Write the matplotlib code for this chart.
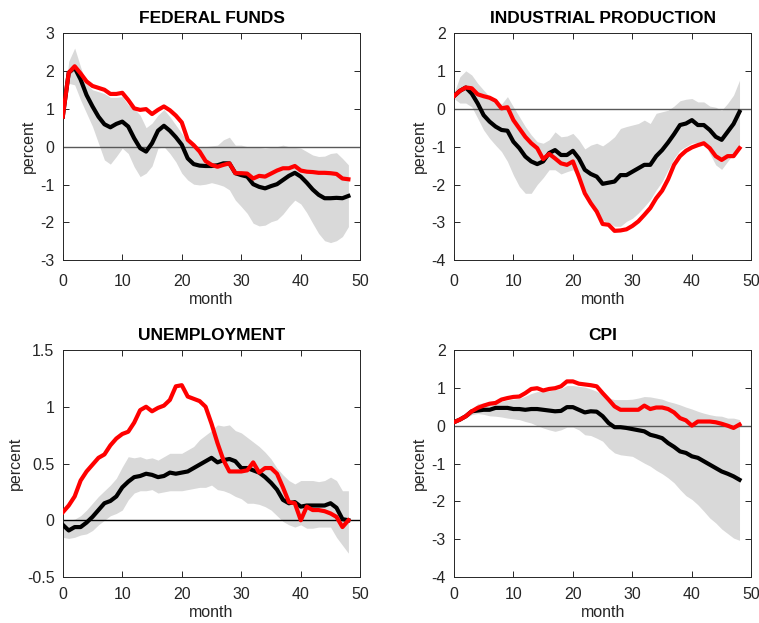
import numpy as np
import matplotlib
matplotlib.use("Agg")
from matplotlib import pyplot as plt

plt.rcParams['font.family'] = ['Liberation Sans', 'DejaVu Sans']
plt.rcParams['axes.unicode_minus'] = False

months = np.arange(49)

# Federal funds
ff_red = [0.79, 1.95, 2.12, 1.93, 1.72, 1.60, 1.55, 1.50, 1.39, 1.39,
          1.42, 1.23, 1.01, 0.97, 0.99, 0.86, 0.97, 1.06, 0.96, 0.82,
          0.64, 0.18, 0.04, -0.13, -0.38, -0.48, -0.53, -0.48, -0.44, -0.70,
          -0.70, -0.71, -0.84, -0.77, -0.79, -0.71, -0.63, -0.57, -0.57, -0.51,
          -0.63, -0.66, -0.67, -0.69, -0.69, -0.70, -0.72, -0.84, -0.86]
ff_black = [0.79, 1.95, 2.08, 1.77, 1.36, 1.06, 0.79, 0.59, 0.51, 0.60,
            0.66, 0.53, 0.22, -0.04, -0.13, 0.09, 0.42, 0.55, 0.42, 0.25,
            0.05, -0.31, -0.46, -0.50, -0.51, -0.51, -0.49, -0.44, -0.44, -0.70,
            -0.75, -0.79, -0.99, -1.06, -1.10, -1.04, -0.99, -0.88, -0.77, -0.69,
            -0.79, -0.95, -1.13, -1.27, -1.36, -1.36, -1.35, -1.36, -1.30]
ff_hi = [0.79, 2.25, 2.60, 2.10, 1.65, 1.50, 1.45, 1.40, 1.30, 1.30,
         1.32, 1.10, 1.00, 0.83, 0.50, 0.62, 0.83, 0.98, 0.79, 0.57,
         0.35, 0.13, 0.04, 0.00, 0.00, 0.02, 0.04, 0.18, 0.25, 0.04,
         0.04, 0.00, 0.00, -0.02, -0.04, -0.02, 0.00, 0.04, 0.00, -0.02,
         -0.04, -0.13, -0.22, -0.26, -0.25, -0.18, -0.16, -0.31, -0.48]
ff_lo = [0.79, 1.67, 1.63, 1.23, 0.88, 0.53, 0.09, -0.35, -0.46, -0.26,
         -0.04, -0.18, -0.53, -0.79, -0.70, -0.51, -0.04, 0.00, -0.18, -0.40,
         -0.70, -0.88, -0.99, -1.01, -0.99, -0.95, -0.99, -1.04, -1.14, -1.41,
         -1.58, -1.76, -2.02, -2.09, -2.07, -1.98, -1.93, -1.78, -1.58, -1.41,
         -1.51, -1.74, -2.02, -2.29, -2.48, -2.53, -2.48, -2.37, -2.11]

# Industrial production
ip_red = [0.33, 0.47, 0.56, 0.54, 0.38, 0.33, 0.29, 0.21, 0.01, 0.04,
          -0.30, -0.52, -0.74, -0.91, -1.04, -1.33, -1.19, -1.31, -1.44, -1.48,
          -1.39, -1.79, -2.23, -2.49, -2.71, -3.04, -3.06, -3.22, -3.21, -3.18,
          -3.09, -2.97, -2.80, -2.62, -2.36, -2.16, -1.86, -1.48, -1.25, -1.11,
          -1.02, -0.96, -0.91, -1.04, -1.25, -1.35, -1.25, -1.25, -1.04]
ip_black = [0.33, 0.47, 0.56, 0.40, 0.14, -0.17, -0.34, -0.47, -0.56, -0.58,
            -0.87, -1.04, -1.26, -1.39, -1.46, -1.39, -1.17, -1.09, -1.22, -1.22,
            -1.11, -1.31, -1.61, -1.72, -1.79, -1.98, -1.95, -1.92, -1.75, -1.75,
            -1.66, -1.57, -1.48, -1.48, -1.25, -1.09, -0.89, -0.67, -0.43, -0.39,
            -0.30, -0.43, -0.43, -0.56, -0.74, -0.82, -0.61, -0.40, -0.08]
ip_hi = [0.40, 0.84, 1.00, 0.89, 0.67, 0.49, 0.32, 0.18, 0.12, 0.32,
         0.05, -0.21, -0.47, -0.69, -0.87, -0.91, -0.82, -0.61, -0.74, -0.72,
         -0.65, -0.82, -1.06, -0.96, -0.91, -0.98, -0.87, -0.74, -0.52, -0.47,
         -0.43, -0.39, -0.30, -0.39, -0.12, -0.08, -0.04, 0.07, 0.21, 0.25,
         0.27, 0.18, 0.18, 0.07, 0.04, -0.04, 0.14, 0.36, 0.75]
ip_lo = [0.27, 0.15, 0.15, 0.05, -0.25, -0.56, -0.78, -0.96, -1.13, -1.39,
         -1.75, -2.05, -2.23, -2.23, -2.00, -1.82, -1.61, -1.61, -1.72, -1.66,
         -1.61, -1.82, -2.14, -2.45, -2.65, -2.95, -3.00, -3.10, -3.10, -2.97,
         -2.89, -2.75, -2.58, -2.40, -2.14, -1.92, -1.61, -1.31, -1.09, -1.00,
         -0.91, -0.89, -0.87, -1.18, -1.48, -1.60, -1.39, -1.18, -0.96]

# Unemployment
un_red = [0.07, 0.13, 0.21, 0.35, 0.43, 0.49, 0.55, 0.58, 0.66, 0.72,
          0.76, 0.78, 0.86, 0.97, 1.00, 0.96, 0.99, 1.01, 1.06, 1.18,
          1.19, 1.09, 1.07, 1.05, 1.00, 0.85, 0.68, 0.53, 0.43, 0.43,
          0.43, 0.44, 0.51, 0.42, 0.46, 0.46, 0.41, 0.29, 0.16, 0.15,
          0.00, 0.12, 0.09, 0.09, 0.08, 0.06, 0.03, -0.06, 0.00]
un_black = [-0.04, -0.09, -0.06, -0.06, -0.02, 0.03, 0.09, 0.15, 0.17, 0.21,
            0.29, 0.34, 0.38, 0.39, 0.41, 0.40, 0.38, 0.39, 0.42, 0.41,
            0.42, 0.43, 0.46, 0.49, 0.52, 0.55, 0.51, 0.53, 0.54, 0.52,
            0.46, 0.46, 0.44, 0.42, 0.38, 0.33, 0.27, 0.18, 0.15, 0.16,
            0.12, 0.13, 0.13, 0.13, 0.13, 0.15, 0.11, 0.01, 0.00]
un_hi = [0.01, 0.00, 0.01, 0.04, 0.09, 0.15, 0.21, 0.26, 0.31, 0.37,
         0.47, 0.56, 0.55, 0.56, 0.54, 0.55, 0.53, 0.56, 0.59, 0.59,
         0.59, 0.62, 0.65, 0.71, 0.75, 0.79, 0.84, 0.83, 0.84, 0.79,
         0.77, 0.73, 0.69, 0.65, 0.60, 0.54, 0.46, 0.40, 0.35, 0.32,
         0.35, 0.35, 0.35, 0.34, 0.35, 0.38, 0.35, 0.26, 0.26]
un_lo = [-0.15, -0.16, -0.15, -0.13, -0.12, -0.09, -0.04, 0.00, 0.04, 0.06,
         0.09, 0.18, 0.24, 0.26, 0.26, 0.27, 0.24, 0.25, 0.26, 0.26,
         0.26, 0.27, 0.28, 0.29, 0.29, 0.31, 0.27, 0.26, 0.24, 0.21,
         0.19, 0.15, 0.15, 0.14, 0.12, 0.09, 0.04, -0.01, -0.04, -0.06,
         -0.04, -0.07, -0.07, -0.06, -0.06, -0.06, -0.15, -0.22, -0.29]

# CPI
cpi_red = [0.09, 0.16, 0.25, 0.38, 0.47, 0.53, 0.58, 0.60, 0.69, 0.73,
           0.76, 0.77, 0.86, 0.97, 0.99, 0.93, 0.97, 0.99, 1.04, 1.17,
           1.17, 1.11, 1.09, 1.07, 1.04, 0.86, 0.69, 0.51, 0.42, 0.42,
           0.42, 0.42, 0.53, 0.44, 0.48, 0.48, 0.44, 0.35, 0.20, 0.14,
           0.00, 0.11, 0.11, 0.11, 0.09, 0.05, 0.00, -0.06, 0.03]
cpi_black = [0.09, 0.16, 0.25, 0.38, 0.40, 0.42, 0.42, 0.47, 0.47, 0.47,
             0.44, 0.44, 0.42, 0.44, 0.44, 0.42, 0.40, 0.38, 0.39, 0.49,
             0.49, 0.42, 0.35, 0.38, 0.37, 0.25, 0.07, -0.04, -0.04, -0.06,
             -0.09, -0.12, -0.15, -0.24, -0.28, -0.33, -0.46, -0.56, -0.68, -0.72,
             -0.81, -0.85, -0.94, -1.03, -1.12, -1.21, -1.27, -1.34, -1.43]
cpi_hi = [0.09, 0.16, 0.29, 0.42, 0.58, 0.60, 0.62, 0.60, 0.64, 0.68,
          0.70, 0.72, 0.78, 0.85, 0.90, 0.90, 0.92, 0.95, 0.98, 1.06,
          1.06, 1.04, 1.02, 0.97, 0.91, 0.82, 0.73, 0.69, 0.69, 0.69,
          0.70, 0.73, 0.77, 0.76, 0.73, 0.70, 0.64, 0.60, 0.55, 0.49,
          0.44, 0.38, 0.33, 0.29, 0.26, 0.25, 0.20, 0.20, 0.16]
cpi_lo = [0.09, 0.14, 0.20, 0.29, 0.32, 0.30, 0.26, 0.25, 0.23, 0.20,
          0.18, 0.16, 0.11, 0.07, 0.00, -0.06, -0.11, -0.15, -0.11, -0.04,
          -0.04, -0.11, -0.24, -0.26, -0.33, -0.41, -0.59, -0.72, -0.77, -0.79,
          -0.81, -0.90, -0.99, -1.07, -1.18, -1.27, -1.38, -1.51, -1.69, -1.85,
          -1.95, -2.09, -2.26, -2.44, -2.57, -2.73, -2.85, -2.97, -3.03]

AXIS_COLOR = '0.15'


def plot_panel(ax, title, lo, hi, black, red, ylim, yticks,
               zero_color='0.35', xpad=10):
    ax.fill_between(months, lo, hi, color='#d9d9d9', linewidth=0, zorder=1)
    ax.axhline(0, color=zero_color, linewidth=1.0, zorder=2)
    ax.plot(months, black, color='black', linewidth=3, zorder=3)
    ax.plot(months, red, color='red', linewidth=3, zorder=4)
    ax.set_xlim(0, 50)
    ax.set_ylim(*ylim)
    ax.set_xticks([0, 10, 20, 30, 40, 50])
    ax.set_yticks(yticks)
    ax.set_yticklabels(['%g' % t for t in yticks])
    ax.tick_params(direction='in', top=True, right=True, length=4,
                   width=0.7, colors=AXIS_COLOR, labelsize=11.5)
    ax.tick_params(axis='x', pad=xpad)
    ax.tick_params(axis='y', pad=6)
    for s in ax.spines.values():
        s.set_color(AXIS_COLOR)
        s.set_linewidth(0.7)
    ax.set_title(title, fontsize=12.5, fontweight='bold', pad=7)
    ax.set_xlabel('month', fontsize=11.5, color=AXIS_COLOR, labelpad=2)
    ax.set_ylabel('percent', fontsize=11.5, color=AXIS_COLOR, labelpad=3)


fig = plt.figure(figsize=(7.59, 6.23), dpi=100)
ax1 = fig.add_axes([0.0827, 0.582, 0.392, 0.3652])
ax2 = fig.add_axes([0.598, 0.582, 0.392, 0.3652])
ax3 = fig.add_axes([0.0827, 0.0738, 0.392, 0.3644])
ax4 = fig.add_axes([0.598, 0.0738, 0.392, 0.3644])

plot_panel(ax1, 'FEDERAL FUNDS', ff_lo, ff_hi, ff_black, ff_red,
           (-3, 3), [-3, -2, -1, 0, 1, 2, 3])
plot_panel(ax2, 'INDUSTRIAL PRODUCTION', ip_lo, ip_hi, ip_black, ip_red,
           (-4, 2), [-4, -3, -2, -1, 0, 1, 2])
plot_panel(ax3, 'UNEMPLOYMENT', un_lo, un_hi, un_black, un_red,
           (-0.5, 1.5), [-0.5, 0, 0.5, 1, 1.5], zero_color='black', xpad=7)
plot_panel(ax4, 'CPI', cpi_lo, cpi_hi, cpi_black, cpi_red,
           (-4, 2), [-4, -3, -2, -1, 0, 1, 2], xpad=7)

fig.savefig('out.png', dpi=100)
